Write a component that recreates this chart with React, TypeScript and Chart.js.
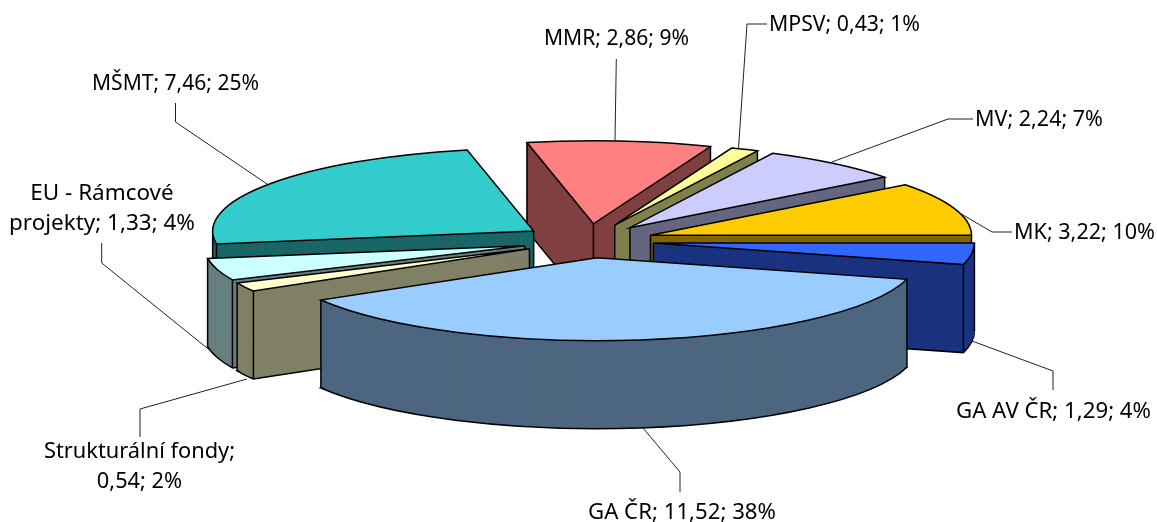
import React, { useEffect, useRef } from "react";
import { Chart, registerables } from "chart.js";

Chart.register(...registerables);

const categories = ["MK", "GA AV ČR", "GA ČR", "Strukturální fondy", "EU - Rámcové projekty", "MŠMT", "MMR", "MPSV", "MV"];
const values = [3.22, 1.29, 11.52, 0.54, 1.33, 7.46, 2.86, 0.43, 2.24];
const percents = [10, 4, 38, 2, 4, 25, 9, 1, 7];
const topColors = ["#FFCC00", "#3366FF", "#99CCFF", "#FFFFCC", "#CCFFFF", "#33CCCC", "#FF8080", "#FFFF99", "#CCCCFF"];
const wallColors = ["#806600", "#1A3380", "#4D6680", "#808066", "#668080", "#1A6666", "#804040", "#80804D", "#666680"];

// Label anchors: centre x, first-line centre y, target width of the widest line
const labelBoxes: [number, number, number][] = [
  [1084.5, 233, 141],
  [1053.5, 412, 195],
  [682, 513, 188],
  [139.5, 452, 191],
  [102, 194, 186],
  [175.5, 84, 167],
  [616.5, 39, 145],
  [844.5, 25, 151],
  [1039, 120, 128],
];
const leaders: [number, number][][] = [
  [[1012, 232], [992, 232], [958, 212]],
  [[1053, 390], [1053, 371], [972, 341]],
  [[680, 492], [680, 472], [643, 428]],
  [[140, 437], [140, 409], [247, 379]],
  [[101.7, 243], [101.7, 263], [212, 352]],
  [[175.5, 103], [175.5, 122], [267, 184]],
  [[616.3, 59], [615, 141]],
  [[767, 24], [747, 24], [738.5, 148]],
  [[973, 119], [948, 119], [832, 162]],
];

const CX = 588;
const CY = 240.8;
const RADIUS = 321;
const SQUASH = 83 / 321;
const EXPLODE = 66;
const DEPTH = 88;
const EDGE = 1.5;
const FONT = '22px "Noto Sans"';

const TAU = Math.PI * 2;
const contains = (el: any, a: number) => {
  const d = ((a - el.startAngle) % TAU + TAU) % TAU;
  return d <= el.endAngle - el.startAngle;
};

const pie3d = {
  id: "pie3d",
  beforeDatasetsDraw(chart: any) {
    const ctx = chart.ctx;
    const dpr = chart.currentDevicePixelRatio || 1;
    const meta = chart.getDatasetMeta(0);
    // strokes ignore the squash so the outline keeps an even width
    const rawStroke = ctx.stroke;
    ctx.stroke = function (...args: any[]) {
      ctx.save();
      ctx.setTransform(dpr, 0, 0, dpr, 0, 0);
      rawStroke.apply(ctx, args);
      ctx.restore();
    };
    const order = meta.data
      .map((el: any, i: number) => ({ el, i, mid: (el.startAngle + el.endAngle) / 2 }))
      .sort((a: any, b: any) => Math.sin(a.mid) - Math.sin(b.mid));

    for (const { el, i, mid } of order) {
      const ax = CX + EXPLODE * Math.cos(mid);
      const ay = CY + EXPLODE * Math.sin(mid) * SQUASH;
      const drawAt = (d: number, opts: any) => {
        const saved = el.options;
        el.options = { ...saved, ...opts };
        ctx.save();
        ctx.translate(ax, ay + d);
        ctx.scale(1, SQUASH);
        ctx.translate(-el.x, -el.y);
        el.draw(ctx);
        ctx.restore();
        el.options = saved;
      };
      drawAt(DEPTH, { backgroundColor: wallColors[i] });
      for (let d = DEPTH - 2; d > 0; d--) {
        // a thin stroke in the wall colour keeps slivers opaque near the apex
        drawAt(d, { backgroundColor: wallColors[i], borderColor: wallColors[i], borderWidth: 1 });
      }
      // vertical edges: only those on a wall that faces the viewer
      const angles: number[] = [];
      if (Math.sin(el.startAngle) > 0 || Math.cos(el.startAngle) < 0) angles.push(el.startAngle);
      if (Math.sin(el.endAngle) > 0 || Math.cos(el.endAngle) > 0) angles.push(el.endAngle);
      if (contains(el, Math.PI)) angles.push(Math.PI);
      if (contains(el, 0) || contains(el, TAU)) angles.push(0);
      ctx.save();
      ctx.strokeStyle = "#000";
      ctx.lineWidth = EDGE;
      ctx.beginPath();
      for (const a of angles) {
        const x = ax + RADIUS * Math.cos(a);
        const y = ay + RADIUS * SQUASH * Math.sin(a);
        ctx.moveTo(x, y);
        ctx.lineTo(x, y + DEPTH);
      }
      if (!contains(el, Math.PI / 2)) {
        ctx.moveTo(ax, ay);
        ctx.lineTo(ax, ay + DEPTH);
      }
      ctx.stroke();
      ctx.restore();
      drawAt(0, {});
    }
    delete ctx.stroke;
    return false;
  },
  afterDraw(chart: any) {
    const ctx = chart.ctx;
    ctx.save();
    ctx.strokeStyle = "#222";
    ctx.lineWidth = 1;
    for (const pts of leaders) {
      ctx.beginPath();
      pts.forEach(([x, y], k) => (k ? ctx.lineTo(x, y) : ctx.moveTo(x, y)));
      ctx.stroke();
    }
    ctx.fillStyle = "#000";
    ctx.font = FONT;
    ctx.textAlign = "center";
    ctx.textBaseline = "middle";
    categories.forEach((name, i) => {
      const text = `${name}; ${values[i].toFixed(2).replace(".", ",")}; ${percents[i]}%`;
      const lines = text.replace("fondy; ", "fondy;\n").replace("Rámcové ", "Rámcové\n").split("\n");
      const [x, y, w] = labelBoxes[i];
      const widest = Math.max(...lines.map((l) => ctx.measureText(l).width));
      const sx = w / widest;
      lines.forEach((l, k) => {
        ctx.save();
        ctx.translate(x, y + k * 30);
        ctx.scale(sx, 1);
        ctx.fillText(l, 0, 0);
        ctx.restore();
      });
    });
    ctx.restore();
  },
};

export default function App() {
  const ref = useRef<HTMLCanvasElement>(null);
  useEffect(() => {
    document.body.style.margin = "0";
    const chart = new Chart(ref.current!, {
      type: "pie",
      data: {
        labels: categories,
        datasets: [
          {
            data: values,
            backgroundColor: topColors,
            borderColor: "#000",
            borderWidth: EDGE,
            borderJoinStyle: "miter",
            radius: RADIUS,
          } as any,
        ],
      },
      options: {
        responsive: false,
        animation: false,
        devicePixelRatio: 1,
        rotation: 52.5,
        events: [],
        plugins: { legend: { display: false }, tooltip: { enabled: false } },
      } as any,
      plugins: [pie3d as any],
    });
    return () => chart.destroy();
  }, []);
  return <canvas ref={ref} width={1157} height={522} style={{ display: "block" }} />;
}
